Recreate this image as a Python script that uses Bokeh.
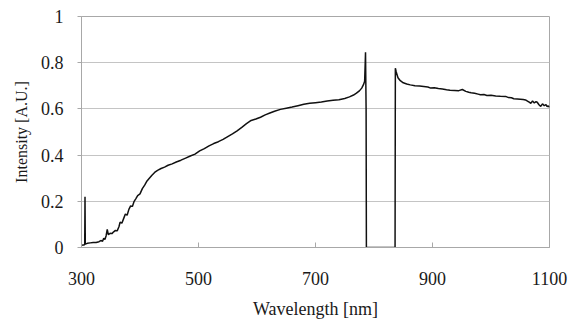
from bokeh.plotting import figure
from bokeh.models import FixedTicker, Range1d
from bokeh.embed import file_html
from bokeh.resources import INLINE

wavelength = [301, 305, 305.5, 306, 306.5, 310, 315, 320, 325, 330, 333, 336, 338, 340, 342, 344, 346,
              349, 352, 355, 358, 361, 364, 366, 369, 372, 375, 378, 381, 384, 387, 390, 393, 396,
              400, 404, 408, 412, 416, 420, 425, 430, 436, 442, 448, 455, 462, 470, 478, 486, 494,
              502, 510, 518, 526, 534, 542, 550, 558, 566, 574, 582, 590, 598, 606, 614, 622, 630,
              640, 650, 660, 670, 680, 690, 700, 710, 720, 730, 740, 750, 758, 765, 770, 775, 779,
              782, 784, 785, 785.5, 786.5, 787, 836, 836.5, 838, 841, 845, 850, 856, 862, 870, 878,
              885, 892, 897, 903, 910, 917, 924, 930, 938, 945, 951, 957, 962, 966, 972, 978, 982,
              988, 993, 1000, 1008, 1016, 1025, 1030, 1035, 1039, 1045, 1050, 1055, 1059, 1063,
              1066, 1068, 1071, 1074, 1077, 1079, 1082, 1085, 1088, 1091, 1094, 1096, 1098, 1100]
intensity = [0.01, 0.012, 0.012, 0.22, 0.015, 0.018, 0.02, 0.022, 0.022, 0.025, 0.03, 0.027, 0.04,
             0.035, 0.05, 0.078, 0.055, 0.062, 0.06, 0.068, 0.074, 0.072, 0.09, 0.11, 0.105, 0.125,
             0.145, 0.14, 0.165, 0.18, 0.178, 0.20, 0.212, 0.225, 0.232, 0.255, 0.27, 0.288, 0.30,
             0.312, 0.325, 0.334, 0.342, 0.348, 0.356, 0.362, 0.37, 0.378, 0.387, 0.396, 0.404,
             0.418, 0.428, 0.44, 0.45, 0.458, 0.468, 0.48, 0.492, 0.505, 0.52, 0.536, 0.55, 0.556,
             0.564, 0.574, 0.582, 0.59, 0.598, 0.603, 0.608, 0.614, 0.62, 0.624, 0.627, 0.63, 0.634,
             0.637, 0.640, 0.645, 0.652, 0.66, 0.668, 0.678, 0.69, 0.705, 0.72, 0.80, 0.845, 0.6,
             0.0, 0.0, 0.776, 0.76, 0.735, 0.722, 0.713, 0.708, 0.704, 0.70, 0.699, 0.697, 0.695,
             0.69, 0.692, 0.688, 0.686, 0.683, 0.681, 0.68, 0.679, 0.684, 0.676, 0.672, 0.67, 0.668,
             0.664, 0.661, 0.662, 0.658, 0.659, 0.656, 0.655, 0.654, 0.649, 0.648, 0.644, 0.643,
             0.642, 0.641, 0.639, 0.633, 0.628, 0.624, 0.634, 0.626, 0.631, 0.629, 0.618, 0.611,
             0.622, 0.614, 0.619, 0.61, 0.613, 0.607]

x_ticks = [300, 500, 700, 900, 1100]
y_ticks = [0, 0.2, 0.4, 0.6, 0.8, 1.0]
y_tick_labels = ["0", "0.2", "0.4", "0.6", "0.8", "1"]

FONT = "Liberation Serif"
AXIS_GREY = "#a8a8a8"

p = figure(frame_width=468, frame_height=231, output_backend="svg", toolbar_location=None,
           x_range=Range1d(300, 1100), y_range=Range1d(0, 1),
           min_border_left=81, min_border_right=25, min_border_top=16, min_border_bottom=73)

p.line(wavelength, intensity, line_color="#111111", line_width=1.5)

p.outline_line_color = AXIS_GREY
p.outline_line_width = 1
p.background_fill_color = "white"
p.border_fill_color = "white"

p.xgrid.grid_line_color = None
p.ygrid.grid_line_color = "#c4c4c4"
p.ygrid.grid_line_width = 1

p.xaxis.ticker = FixedTicker(ticks=x_ticks)
p.yaxis.ticker = FixedTicker(ticks=y_ticks)
p.yaxis.major_label_overrides = {t: l for t, l in zip(y_ticks, y_tick_labels)}

for ax in (p.xaxis[0], p.yaxis[0]):
    ax.axis_line_color = AXIS_GREY
    ax.major_tick_line_color = AXIS_GREY
    ax.minor_tick_line_color = None
    ax.major_label_text_font = FONT
    ax.major_label_text_font_size = "18px"
    ax.major_label_text_color = "#1a1a1a"
    ax.axis_label_text_font = FONT
    ax.axis_label_text_font_style = "normal"
    ax.axis_label_text_color = "#1a1a1a"

p.xaxis.major_tick_in = 5
p.xaxis.major_tick_out = 0
p.yaxis.major_tick_in = 0
p.yaxis.major_tick_out = 4
p.xaxis.major_label_standoff = 24
p.yaxis.major_label_standoff = 14

p.xaxis.axis_label = "Wavelength [nm]"
p.xaxis.axis_label_text_font_size = "18px"
p.xaxis.axis_label_standoff = 11
p.yaxis.axis_label = "Intensity [A.U.]"
p.yaxis.axis_label_text_font_size = "16px"
p.yaxis.axis_label_standoff = 8

open("out.html", "w").write(file_html(p, INLINE))
